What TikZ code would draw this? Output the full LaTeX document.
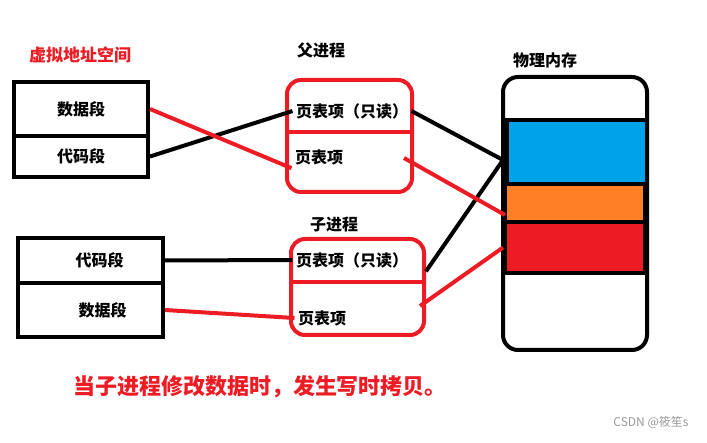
\documentclass[tikz,border=0pt]{standalone}
\usepackage{fontspec}
\setmainfont{Noto Sans CJK SC}
\usetikzlibrary{positioning}
\definecolor{pgred}{HTML}{ED1C24}
\definecolor{pgblue}{HTML}{00A2E8}
\definecolor{pgorange}{HTML}{FF7F27}
\definecolor{markgray}{HTML}{9A9A9A}

\begin{document}
\begin{tikzpicture}[x=1pt,y=-1pt,font=\bfseries\fontsize{16}{19}\selectfont,
    seg/.style={draw,line width=4pt,inner sep=0pt},
    ptbox/.style={draw=pgred,line width=4pt,rounded corners=14pt,inner sep=0pt},
    memblk/.style={draw,line width=4pt,minimum width=140pt,inner sep=0pt},
    blk/.style={line width=4pt},
    rd/.style={line width=4pt,pgred}]
        \useasboundingbox (0,0) rectangle (707,443);
        % virtual address spaces
        \node[pgred,font=\bfseries\fontsize{17}{20}\selectfont] (vtitle) at (80,55) {虚拟地址空间};
        \node[seg,minimum width=134pt,minimum height=54pt] (vdataA) at (81,109) {数据段};
        \node[seg,minimum width=134pt,minimum height=41pt] (vcodeA) at (81,156.5) {代码段};
        \node[seg,minimum width=145pt,minimum height=45pt] (vcodeB) at (90.5,260.5) {\hspace*{18pt}代码段};
        \node[seg,minimum width=145pt,minimum height=54pt] (vdataB) at (90.5,310) {\hspace*{24pt}数据段};
        % page tables
        \node (ptitle) at (321,50) {父进程};
        \node[ptbox,minimum width=125pt,minimum height=112pt] (parent) at (349.5,136) {};
        \draw[rd] (parent.west |- 0,132) -- (parent.east |- 0,132);
        \node (pro) at (352,111) {页表项（只读）};
        \node (prw) at (319,157) {页表项};
        \node (ctitle) at (334,225) {子进程};
        \node[ptbox,minimum width=133pt,minimum height=96pt] (child) at (357.5,287) {};
        \draw[rd] (child.west |- 0,282) -- (child.east |- 0,282);
        \node (cro) at (352,260) {页表项（只读）};
        \node (crw) at (322,318) {页表项};
        % physical memory
        \node (mtitle) at (545,60) {物理内存};
        \node[draw,line width=4pt,rounded corners=15pt,minimum width=144pt,minimum height=273pt] (mem) at (575,213.5) {};
        \node[memblk,fill=pgblue,minimum height=64pt] (mblue) at (577,152) {};
        \node[memblk,fill=pgorange,minimum height=38pt] (morange) at (575,203) {};
        \node[memblk,fill=pgred,minimum height=51pt] (mred) at (575,247.5) {};
        \coordinate (mhit) at (503,160);
        \coordinate (mor) at (505,215);
        \coordinate (prwR) at (404,158);
        \coordinate (crwR) at (420,306);
        % mappings
        \draw[blk] (vcodeA.east) -- (pro.west);
        \draw[rd] (vdataA.east) -- (prw.south west);
        \draw[blk] (vcodeB.east) -- (cro.west);
        \draw[rd] (vdataB.east) -- (crw.west);
        \draw[blk] (pro.east) -- (mhit);
        \draw[blk] (child.east |- cro.south) -- (mhit);
        \draw[rd] (prwR) -- (mor);
        \draw[rd] (crwR) -- (mred.west);
        \node[pgred,font=\bfseries\fontsize{22}{26}\selectfont] (note) at (260,387) {当子进程修改数据时，发生写时拷贝。};
        \node[markgray,font=\mdseries\fontsize{12}{14}\selectfont] (mark) at (651,422) {CSDN @筱笙s};
      \end{tikzpicture}
\end{document}
